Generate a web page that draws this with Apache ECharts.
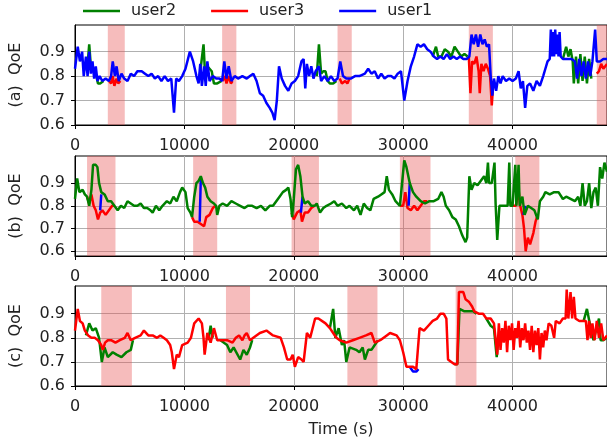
<!DOCTYPE html>
<html>
<head>
<meta charset="utf-8">
<script src="https://cdn.jsdelivr.net/npm/echarts@6/dist/echarts.min.js"></script>
<style>
  html, body { margin: 0; padding: 0; background: #fff; }
  #main { width: 607px; height: 439px; }
</style>
</head>
<body>
<div id="main"></div>
<script>
// tick values
var xTicks = [0, 10000, 20000, 30000, 40000];
var yTicks = [0.6, 0.7, 0.8, 0.9];

// shaded intervals (s)
var aSpans = [[3000, 4550], [13450, 14750], [24000, 25300], [36000, 38200], [47700, 49000]];
var bSpans = [[1100, 3700], [10800, 13000], [19800, 22300], [29700, 32500], [40250, 42450]];
var cSpans = [[2400, 5200], [13800, 16000], [24900, 27650], [34800, 36700]];

// (a) user1 on top, others only where they show
var aUser1 = [[0,0.83],[250,0.92],[450,0.86],[650,0.90],[800,0.80],[1000,0.88],[1150,0.80],[1300,0.90],[1450,0.81],[1600,0.86],[1750,0.79],[1900,0.84],[2050,0.78],[2250,0.80],[2500,0.78],[2800,0.79],[3100,0.78],[3300,0.80],[3450,0.86],[3650,0.80],[3800,0.84],[4000,0.78],[4250,0.81],[4500,0.79],[4800,0.78],[5100,0.81],[5400,0.80],[5700,0.82],[6100,0.82],[6400,0.81],[6700,0.80],[7000,0.81],[7300,0.79],[7600,0.80],[7900,0.78],[8200,0.80],[8500,0.78],[8800,0.79],[9050,0.65],[9250,0.79],[9500,0.78],[9800,0.80],[10100,0.83],[10500,0.90],[10800,0.86],[11100,0.80],[11300,0.77],[11450,0.85],[11600,0.76],[11800,0.84],[11950,0.76],[12100,0.86],[12300,0.78],[12600,0.80],[12900,0.79],[13200,0.79],[13450,0.78],[13650,0.86],[13850,0.79],[14050,0.84],[14300,0.78],[14600,0.80],[14900,0.79],[15300,0.80],[15700,0.79],[16000,0.80],[16300,0.81],[16600,0.78],[16900,0.73],[17200,0.72],[17500,0.69],[17800,0.67],[18050,0.65],[18250,0.62],[18450,0.70],[18650,0.84],[18900,0.79],[19200,0.76],[19500,0.74],[19800,0.77],[20100,0.78],[20400,0.80],[20700,0.86],[20900,0.87],[21050,0.75],[21200,0.85],[21400,0.80],[21600,0.84],[21800,0.79],[22000,0.82],[22300,0.84],[22500,0.78],[22800,0.80],[23100,0.78],[23400,0.80],[23700,0.78],[24000,0.79],[24250,0.86],[24500,0.80],[24800,0.79],[25200,0.79],[25600,0.80],[26000,0.80],[26500,0.81],[26800,0.83],[27100,0.81],[27400,0.82],[27700,0.79],[28000,0.81],[28300,0.79],[28600,0.80],[28900,0.80],[29200,0.79],[29500,0.81],[29800,0.82],[30100,0.70],[30400,0.78],[30700,0.84],[31000,0.88],[31300,0.93],[31600,0.92],[31900,0.93],[32200,0.91],[32500,0.90],[32800,0.88],[33100,0.87],[33400,0.88],[33700,0.87],[34000,0.89],[34300,0.87],[34600,0.88],[34900,0.87],[35200,0.88],[35500,0.87],[35800,0.87],[36050,0.88],[36250,0.97],[36450,0.93],[36650,0.97],[36850,0.92],[37050,0.97],[37250,0.93],[37450,0.95],[37650,0.92],[37850,0.93],[38000,0.80],[38150,0.72],[38300,0.79],[38500,0.74],[38700,0.80],[38900,0.77],[39100,0.80],[39400,0.78],[39700,0.79],[40000,0.78],[40300,0.79],[40550,0.82],[40750,0.75],[40950,0.78],[41150,0.67],[41350,0.76],[41600,0.77],[41900,0.74],[42200,0.78],[42500,0.76],[42800,0.80],[43000,0.83],[43200,0.86],[43400,0.87],[43500,0.99],[43600,0.88],[43700,0.98],[43800,0.88],[43900,0.99],[44000,0.89],[44100,0.97],[44200,0.88],[44300,0.98],[44400,0.88],[44600,0.87],[45000,0.87],[45400,0.87],[45700,0.86],[45900,0.79],[46100,0.87],[46300,0.80],[46500,0.86],[46700,0.79],[46900,0.86],[47100,0.80],[47300,0.86],[47550,0.99],[47700,0.86],[48000,0.86],[48300,0.87],[48634,0.87]];
var aUser2Segs = [
  [[1100,0.82],[1300,0.93],[1450,0.84],[1600,0.83],[1750,0.83],[1900,0.81],[2100,0.77],[2300,0.77],[2600,0.78]],
  [[11400,0.80],[11750,0.93],[11900,0.80],[12100,0.84],[12300,0.83],[12500,0.82],[12700,0.77],[13000,0.77],[13400,0.78]],
  [[22100,0.80],[22300,0.93],[22500,0.81],[22700,0.82],[22900,0.82],[23100,0.78],[23300,0.77],[23600,0.77],[23900,0.78]],
  [[32700,0.88],[33000,0.92],[33200,0.88],[33500,0.88],[33800,0.91],[34100,0.90],[34400,0.88],[34700,0.92],[35000,0.90],[35300,0.88],[35600,0.89],[35900,0.88]],
  [[44600,0.87],[44900,0.92],[45100,0.88],[45300,0.91],[45500,0.86],[45600,0.77],[45800,0.88],[46000,0.77],[46200,0.89],[46400,0.78],[46600,0.88],[46800,0.77],[47000,0.87],[47200,0.79]]
];
var aUser3Segs = [
  [[3100,0.78],[3300,0.77],[3450,0.80],[3600,0.76],[3800,0.79],[3950,0.77],[4150,0.78]],
  [[13500,0.78],[13700,0.80],[13850,0.77],[14050,0.80],[14250,0.77],[14400,0.78]],
  [[24200,0.79],[24400,0.77],[24700,0.78],[24900,0.77],[25100,0.79]],
  [[36000,0.88],[36150,0.73],[36300,0.86],[36500,0.85],[36700,0.88],[36900,0.82],[37000,0.73],[37150,0.85],[37350,0.82],[37550,0.85],[37750,0.83],[37950,0.80],[38100,0.68],[38250,0.78]],
  [[47700,0.81],[47900,0.82],[48100,0.85],[48300,0.83],[48634,0.85]]
];

// (b) user2 on top
var bUser2 = [[0,0.83],[200,0.92],[400,0.86],[700,0.87],[900,0.85],[1100,0.84],[1300,0.80],[1500,0.87],[1650,0.98],[1900,0.98],[2050,0.97],[2200,0.90],[2400,0.86],[2700,0.85],[3000,0.82],[3300,0.82],[3600,0.80],[3900,0.78],[4200,0.80],[4500,0.79],[4800,0.82],[5100,0.81],[5400,0.80],[5700,0.80],[6000,0.81],[6300,0.79],[6600,0.79],[6900,0.78],[7100,0.77],[7400,0.80],[7700,0.78],[8000,0.80],[8400,0.82],[8700,0.81],[9000,0.84],[9300,0.82],[9600,0.86],[9800,0.88],[10100,0.86],[10300,0.79],[10550,0.77],[10700,0.75],[10900,0.84],[11100,0.90],[11300,0.91],[11500,0.93],[11700,0.90],[11900,0.88],[12100,0.84],[12400,0.82],[12700,0.81],[12900,0.80],[13000,0.76],[13200,0.80],[13500,0.81],[13900,0.80],[14300,0.82],[14700,0.81],[15100,0.80],[15500,0.79],[15800,0.80],[16200,0.80],[16600,0.79],[17000,0.80],[17400,0.78],[17800,0.80],[18100,0.80],[18400,0.82],[18700,0.84],[19000,0.86],[19300,0.87],[19500,0.88],[19700,0.83],[19850,0.75],[20000,0.83],[20200,0.96],[20400,0.98],[20600,0.93],[20800,0.84],[21000,0.81],[21300,0.82],[21600,0.80],[21900,0.80],[22100,0.81],[22400,0.77],[22700,0.79],[23000,0.80],[23400,0.81],[23700,0.82],[24000,0.80],[24400,0.81],[24800,0.79],[25100,0.80],[25500,0.78],[25800,0.80],[26100,0.76],[26400,0.81],[26700,0.79],[27000,0.78],[27300,0.83],[27700,0.84],[28000,0.85],[28300,0.86],[28500,0.93],[28700,0.87],[29000,0.85],[29300,0.82],[29700,0.80],[29900,0.90],[30100,1.00],[30300,0.97],[30600,0.90],[30900,0.86],[31200,0.84],[31600,0.82],[32000,0.81],[32400,0.82],[32800,0.82],[33200,0.83],[33500,0.86],[33700,0.84],[33900,0.80],[34200,0.78],[34500,0.75],[34800,0.74],[35100,0.71],[35400,0.67],[35700,0.64],[35850,0.66],[36050,0.93],[36250,0.87],[36500,0.90],[36800,0.89],[37100,0.91],[37400,0.93],[37600,0.90],[37750,0.99],[37850,0.90],[38100,0.90],[38350,0.99],[38450,0.81],[38600,0.65],[38800,0.80],[39200,0.80],[39550,0.80],[39700,0.99],[39800,0.80],[40000,0.80],[40250,0.98],[40350,0.80],[40550,0.98],[40650,0.80],[40900,0.84],[41100,0.76],[41400,0.80],[41700,0.79],[42000,0.78],[42300,0.74],[42500,0.82],[42800,0.84],[43000,0.86],[43400,0.85],[43800,0.86],[44200,0.86],[44600,0.83],[44900,0.84],[45300,0.83],[45700,0.82],[46000,0.84],[46200,0.80],[46400,0.90],[46600,0.80],[46800,0.82],[47000,0.90],[47200,0.79],[47400,0.86],[47600,0.88],[47800,0.80],[48000,0.97],[48200,0.92],[48400,0.99],[48634,0.95]];
var bUser3Segs = [
  [[1100,0.84],[1300,0.81],[1500,0.85],[1700,0.80],[1900,0.78],[2100,0.74],[2300,0.77],[2500,0.78],[2800,0.76],[3100,0.78],[3400,0.80],[3600,0.80]],
  [[10700,0.75],[10900,0.73],[11200,0.73],[11500,0.72],[11800,0.71],[12000,0.75],[12300,0.76],[12600,0.79],[12800,0.80]],
  [[19800,0.77],[20000,0.74],[20300,0.77],[20600,0.78],[20750,0.73],[21000,0.77],[21300,0.77],[21600,0.79],[21900,0.80]],
  [[29700,0.80],[30000,0.80],[30200,0.86],[30400,0.79],[30700,0.78],[31000,0.80],[31300,0.78],[31600,0.80],[31900,0.82],[32200,0.82]],
  [[40000,0.80],[40300,0.80],[40550,0.87],[40700,0.80],[40900,0.76],[41050,0.70],[41200,0.60],[41400,0.66],[41600,0.63],[41900,0.68],[42100,0.73],[42300,0.76]]
];
var bUser1Segs = [
  [[2300,0.78],[2400,0.85]],
  [[11400,0.73],[11500,0.92]],
  [[20650,0.77],[20800,0.84]],
  [[30500,0.80],[30600,0.90]],
  [[41000,0.76],[41150,0.80]]
];

// (c) user3 on top
var cUser3 = [[0,0.83],[250,0.92],[450,0.87],[700,0.86],[900,0.83],[1200,0.81],[1500,0.80],[1800,0.80],[2100,0.79],[2400,0.77],[2550,0.75],[2750,0.78],[3000,0.79],[3300,0.79],[3700,0.78],[4100,0.79],[4550,0.80],[4800,0.82],[5100,0.79],[5500,0.80],[6000,0.81],[6300,0.83],[6700,0.81],[7100,0.81],[7500,0.80],[7800,0.81],[8100,0.80],[8400,0.79],[8700,0.77],[8850,0.74],[9050,0.67],[9300,0.73],[9500,0.72],[9800,0.77],[10300,0.78],[10600,0.80],[10900,0.86],[11300,0.88],[11600,0.86],[11750,0.80],[11850,0.73],[12100,0.82],[12400,0.78],[12700,0.84],[13000,0.79],[13300,0.79],[13900,0.79],[14400,0.78],[14700,0.80],[15000,0.81],[15300,0.79],[15500,0.81],[15700,0.82],[16000,0.79],[16300,0.80],[16900,0.82],[17500,0.83],[18100,0.81],[18800,0.80],[19100,0.76],[19400,0.71],[19700,0.71],[19900,0.73],[20100,0.68],[20400,0.72],[20700,0.71],[20900,0.70],[21200,0.82],[21500,0.80],[21950,0.88],[22250,0.88],[22900,0.86],[23300,0.84],[23600,0.82],[23900,0.80],[24200,0.79],[24800,0.78],[25400,0.79],[26000,0.80],[26600,0.81],[27100,0.82],[27400,0.78],[27900,0.79],[28500,0.81],[28800,0.82],[29400,0.81],[29700,0.79],[30000,0.74],[30300,0.68],[30600,0.68],[30900,0.68],[31200,0.67],[31500,0.84],[31900,0.83],[32300,0.85],[32700,0.87],[33100,0.88],[33400,0.90],[33700,0.90],[33950,0.88],[34100,0.71],[34400,0.70],[34700,0.69],[34950,0.69],[35100,0.99],[35500,0.99],[35700,0.96],[36000,0.95],[36300,0.93],[36500,0.91],[36900,0.90],[37300,0.90],[37600,0.88],[38000,0.88],[38300,0.86],[38600,0.73],[38750,0.86],[38900,0.75],[39050,0.84],[39200,0.78],[39350,0.87],[39500,0.74],[39650,0.85],[39800,0.79],[39950,0.86],[40100,0.75],[40250,0.84],[40400,0.80],[40550,0.87],[40700,0.76],[40850,0.84],[41000,0.79],[41150,0.86],[41300,0.78],[41450,0.83],[41600,0.75],[41750,0.85],[41900,0.74],[42050,0.83],[42200,0.77],[42350,0.84],[42500,0.71],[42650,0.82],[42800,0.76],[42950,0.83],[43100,0.79],[43300,0.86],[43550,0.85],[43800,0.80],[43950,0.87],[44300,0.86],[44600,0.88],[44850,0.88],[44950,1.00],[45100,0.88],[45300,0.99],[45450,0.88],[45600,0.97],[45750,0.88],[46100,0.87],[46700,0.87],[46850,0.79],[47000,0.87],[47150,0.80],[47300,0.86],[47500,0.79],[47700,0.87],[47900,0.80],[48100,0.86],[48300,0.79],[48634,0.81]];
var cUser2Segs = [
  [[1000,0.81],[1300,0.86],[1600,0.83],[1900,0.84],[2200,0.80],[2450,0.70],[2700,0.76],[3000,0.72],[3450,0.74],[3800,0.73],[4250,0.72],[4700,0.74],[5100,0.75],[5300,0.79]],
  [[12200,0.79],[12400,0.85],[12600,0.80]],
  [[13300,0.79],[13900,0.77],[14200,0.74],[14500,0.76],[15100,0.71],[15400,0.75],[15700,0.73],[16000,0.76],[16200,0.79]],
  [[23300,0.84],[23600,0.92],[23800,0.80],[24100,0.84],[24400,0.77],[24600,0.79],[24800,0.70],[25100,0.76],[25700,0.75],[26000,0.74],[26300,0.76],[26500,0.71],[26800,0.75],[27100,0.75],[27400,0.77],[27700,0.79]],
  [[34700,0.69],[34950,0.69],[35150,0.92],[35600,0.91],[36000,0.91],[36400,0.91],[36700,0.90]],
  [[37600,0.88],[38000,0.85],[38300,0.84],[38550,0.72],[38700,0.80]],
  [[46500,0.87],[46800,0.92],[47100,0.85],[47400,0.79],[47900,0.88],[48050,0.79],[48300,0.79],[48634,0.80]]
];
var cUser1Segs = [
  [[30600,0.68],[30900,0.66],[31200,0.66],[31400,0.67]]
];

var C2 = '#008000', C3 = '#ff0000', C1 = '#0000ff';
var FONT = 'DejaVu Sans';
var FS = 16;
var LW = 2.5;

function joinSegs(segs) {
  var out = [];
  segs.forEach(function (s, i) {
    if (i > 0) out.push([s[0][0] - 1, '-']);
    out = out.concat(s);
  });
  return out;
}

var grids = [
  { top: 25, height: 100, min: 0.6, max: 1.009, label: '(a)  QoE', spans: aSpans },
  { top: 156, height: 100, min: 0.579, max: 1.019, label: '(b)  QoE', spans: bSpans },
  { top: 286, height: 101, min: 0.6, max: 1.015, label: '(c)  QoE', spans: cSpans }
];

var option = {
  animation: false,
  backgroundColor: '#fff',
  textStyle: { fontFamily: FONT },
  legend: {
    data: ['user2', 'user3', 'user1'],
    icon: 'rect',
    top: 3, left: 83,
    padding: 0,
    itemWidth: 37, itemHeight: 2.5, itemGap: 35,
    textStyle: { fontFamily: FONT, fontSize: FS, color: '#222', padding: [0, 0, 0, 6] }
  },
  grid: [], xAxis: [], yAxis: [], series: []
};

grids.forEach(function (g, i) {
  option.grid.push({ left: 74, width: 534, top: g.top, height: g.height,
    show: true, borderColor: '#000', borderWidth: 1, backgroundColor: 'transparent' });
  option.xAxis.push({
    type: 'value', gridIndex: i, min: 0, max: 48634,
    name: i === 2 ? 'Time (s)' : '', nameLocation: 'middle', nameGap: 36,
    nameTextStyle: { fontFamily: FONT, fontSize: FS, color: '#222' },
    axisLine: { show: true, lineStyle: { color: '#000', width: 1 } },
    axisTick: { show: true, length: 4, lineStyle: { color: '#000' }, customValues: xTicks },
    axisLabel: { customValues: xTicks, margin: 13, fontFamily: FONT, fontSize: FS, color: '#222',
      formatter: function (v) { return String(v); } },
    splitLine: { show: true, lineStyle: { color: '#b0b0b0', width: 1 } }
  });
  option.yAxis.push({
    type: 'value', gridIndex: i, min: g.min, max: g.max,
    name: g.label, nameLocation: 'middle', nameGap: 51, nameRotate: 90,
    nameTextStyle: { fontFamily: FONT, fontSize: FS, color: '#222' },
    axisLine: { show: true, lineStyle: { color: '#000', width: 1 } },
    axisTick: { show: true, length: 4, lineStyle: { color: '#000' }, customValues: yTicks },
    axisLabel: { customValues: yTicks, margin: 10, fontFamily: FONT, fontSize: FS, color: '#222',
      formatter: function (v) { return v.toFixed(1); } },
    splitLine: { show: true, lineStyle: { color: '#b0b0b0', width: 1 } }
  });
  // shaded spans
  option.series.push({
    type: 'line', name: 'span', xAxisIndex: i, yAxisIndex: i, data: [], z: 1, silent: true,
    markArea: {
      silent: true,
      itemStyle: { color: 'rgba(232,80,80,0.38)' },
      data: g.spans.map(function (s) { return [{ xAxis: s[0] }, { xAxis: s[1] }]; })
    }
  });
});

function line(name, color, data, idx, z) {
  return {
    type: 'line', name: name, xAxisIndex: idx, yAxisIndex: idx, data: data,
    showSymbol: false, symbol: 'none', z: z, connectNulls: false,
    lineStyle: { color: color, width: LW }, itemStyle: { color: color }
  };
}

// (a)
option.series.push(line('user2', C2, joinSegs(aUser2Segs), 0, 2));
option.series.push(line('user3', C3, joinSegs(aUser3Segs), 0, 3));
option.series.push(line('user1', C1, aUser1, 0, 4));
// (b)
option.series.push(line('user3', C3, joinSegs(bUser3Segs), 1, 2));
option.series.push(line('user1', C1, joinSegs(bUser1Segs), 1, 3));
option.series.push(line('user2', C2, bUser2, 1, 4));
// (c)
option.series.push(line('user2', C2, joinSegs(cUser2Segs), 2, 2));
option.series.push(line('user1', C1, joinSegs(cUser1Segs), 2, 3));
option.series.push(line('user3', C3, cUser3, 2, 4));

var chart = echarts.init(document.getElementById('main'), null, { renderer: 'canvas' });
chart.setOption(option);
</script>
</body>
</html>
